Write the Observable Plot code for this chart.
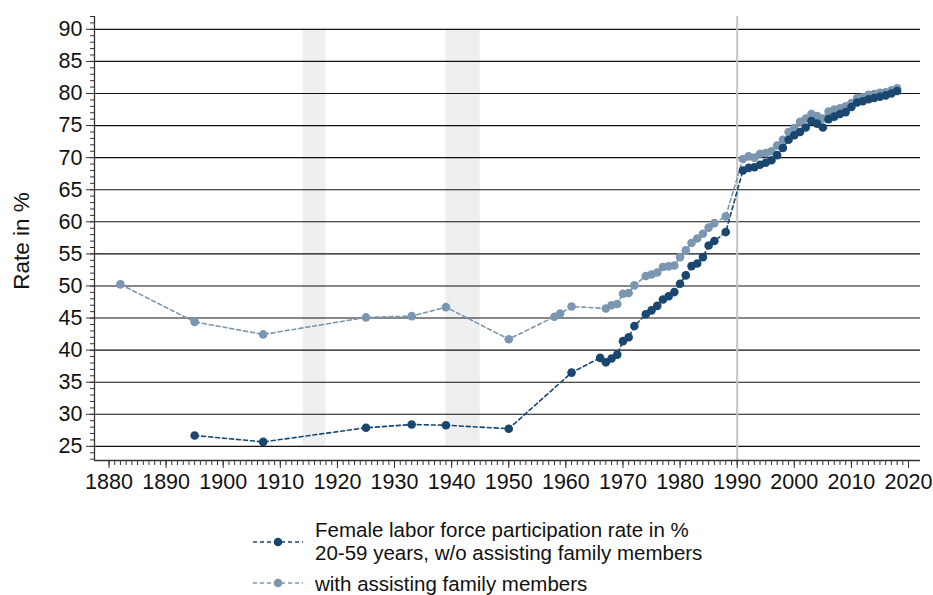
<!DOCTYPE html>
<html><head><meta charset="utf-8">
<script src="https://cdn.jsdelivr.net/npm/d3@7"></script>
<script src="https://cdn.jsdelivr.net/npm/@observablehq/plot@0.6"></script>
<style>
body{margin:0;background:#fff;font-family:"Liberation Sans",Arial,sans-serif;}
#wrap{position:relative;width:933px;height:595px;overflow:hidden;background:#fff;}
#chart{position:absolute;left:0;top:0;}
#chart svg text{font-size:21.5px;font-family:"Liberation Sans",Arial,sans-serif;}
.lg{position:absolute;font-size:20.5px;line-height:23px;color:#111;white-space:nowrap;}
.sym{position:absolute;}
#ylab{position:absolute;left:-78px;top:228px;width:200px;height:26px;line-height:26px;text-align:center;font-size:22.5px;color:#111;transform:rotate(-90deg);transform-origin:50% 50%;}
</style></head><body><div id="wrap"><div id="chart"></div><div id="ylab"></div></div>
<script>
// Data
const warStart = [1914, 1939];
const warEnd = [1918, 1945];

const darkYears = [1895,1907,1925,1933,1939,1950,1961,1966,1967,1968,1969,1970,1971,1972,1974,1975,1976,1977,1978,1979,1980,1981,1982,1983,1984,1985,1986,1988,
  1991,1992,1993,1994,1995,1996,1997,1998,1999,2000,2001,2002,2003,2004,2005,2006,2007,2008,2009,2010,2011,2012,2013,2014,2015,2016,2017,2018];
const darkValues = [26.7,25.7,27.9,28.4,28.3,27.75,36.5,38.8,38.1,38.7,39.3,41.4,42.0,43.75,45.6,46.2,46.9,47.9,48.4,49.05,50.35,51.65,53.1,53.5,54.5,56.3,57.0,58.4,
  68.0,68.4,68.5,68.9,69.2,69.6,70.4,71.5,72.8,73.5,74.0,74.7,75.7,75.3,74.7,76.0,76.4,76.8,77.1,77.9,78.6,78.8,79.1,79.3,79.5,79.7,80.0,80.4];

const lightYears = [1882,1895,1907,1925,1933,1939,1950,1958,1959,1961,1967,1968,1969,1970,1971,1972,1974,1975,1976,1977,1978,1979,1980,1981,1982,1983,1984,1985,1986,1988,
  1991,1992,1993,1994,1995,1996,1997,1998,1999,2000,2001,2002,2003,2004,2005,2006,2007,2008,2009,2010,2011,2012,2013,2014,2015,2016,2017,2018];
const lightValues = [50.25,44.4,42.45,45.1,45.3,46.7,41.7,45.2,45.7,46.8,46.5,47.0,47.2,48.8,48.9,50.1,51.55,51.8,52.1,52.95,53.05,53.2,54.5,55.55,56.7,57.4,58.15,59.1,59.8,60.85,
  69.8,70.2,70.0,70.6,70.7,71.0,71.9,72.8,74.0,74.6,75.6,76.1,76.8,76.5,76.1,77.2,77.5,77.7,78.0,78.5,79.3,79.4,79.8,79.9,80.1,80.2,80.5,80.8];

const yTicks = d3.range(25, 91, 5);
const yMinorTicks = d3.range(23, 93, 1);
const xTicks = d3.range(1880, 2021, 10);
const xMinorTicks = d3.range(1880, 2021, 1);
const markerYear = 1990;

const yAxisTitle = "Rate in %";
const seriesNames = ["Female labor force participation rate in %\n20-59 years, w/o assisting family members", "with assisting family members"];
const darkColor = "#1a476f";
const lightColor = "#7b96b0";

const wars = warStart.map((s, i) => ({start: s, end: warEnd[i]}));
const dark = darkYears.map((y, i) => ({year: y, v: darkValues[i]}));
const light = lightYears.map((y, i) => ({year: y, v: lightValues[i]}));

const xMin = 1877.46, xMax = 2022.1, yMin = 22.8, yMax = 92.0;

const chart = Plot.plot({
  width: 933, height: 500,
  marginLeft: 94, marginRight: 13, marginTop: 16, marginBottom: 40,
  x: {domain: [xMin, xMax]},
  y: {domain: [yMin, yMax]},
  style: {fontFamily: "'Liberation Sans', Arial, sans-serif", fontSize: "21.5px", color: "#111", background: "#fff"},
  marks: [
    Plot.rect(wars, {x1: "start", x2: "end", y1: 25, y2: 90, fill: "#efefef"}),
    Plot.ruleY(yTicks, {x1: xMin, x2: xMax, stroke: "#111", strokeWidth: 1.1}),
    Plot.ruleX([markerYear], {y1: yMin, y2: yMax, stroke: "#c4c4c4", strokeWidth: 2}),
    Plot.line(light, {x: "year", y: "v", stroke: lightColor, strokeWidth: 1.6, strokeDasharray: "4,3"}),
    Plot.line(dark, {x: "year", y: "v", stroke: darkColor, strokeWidth: 1.6, strokeDasharray: "4,3"}),
    Plot.dot(light, {x: "year", y: "v", r: 4.3, fill: lightColor, stroke: "none"}),
    Plot.dot(dark, {x: "year", y: "v", r: 4.3, fill: darkColor, stroke: "none"}),
    Plot.ruleX([xMin], {y1: yMin, y2: yMax, stroke: "#333", strokeWidth: 1.3}),
    Plot.ruleY([yMin], {x1: xMin, x2: xMax, stroke: "#333", strokeWidth: 1.3}),
    Plot.axisY(yTicks, {tickSize: 8, tickPadding: 4, fontSize: 21.5, label: null, stroke: "#333"}),
    Plot.axisY(yMinorTicks, {tickSize: 4, text: null, label: null, stroke: "#333"}),
    Plot.axisX(xTicks, {tickSize: 8, tickPadding: 5, fontSize: 21.5, label: null, tickFormat: d => String(d), stroke: "#333"}),
    Plot.axisX(xMinorTicks, {tickSize: 5, text: null, label: null, stroke: "#333"})
  ]
});
document.getElementById("chart").appendChild(chart);
document.getElementById("ylab").textContent = yAxisTitle;

// Legend
const wrap = document.getElementById("wrap");
function symbol(color, cy) {
  const ns = "http://www.w3.org/2000/svg";
  const s = document.createElementNS(ns, "svg");
  s.setAttribute("width", 60); s.setAttribute("height", 20);
  s.setAttribute("class", "sym");
  s.style.left = "250px"; s.style.top = (cy - 10) + "px";
  const l = document.createElementNS(ns, "line");
  l.setAttribute("x1", 3); l.setAttribute("x2", 53); l.setAttribute("y1", 10); l.setAttribute("y2", 10);
  l.setAttribute("stroke", color); l.setAttribute("stroke-width", 1.6); l.setAttribute("stroke-dasharray", "4,3");
  const c = document.createElementNS(ns, "circle");
  c.setAttribute("cx", 28); c.setAttribute("cy", 10); c.setAttribute("r", 4.3); c.setAttribute("fill", color);
  s.appendChild(l); s.appendChild(c);
  wrap.appendChild(s);
}
function label(text, top) {
  const d = document.createElement("div");
  d.className = "lg";
  d.style.left = "315px"; d.style.top = top + "px";
  d.innerHTML = text.split("\n").join("<br>");
  wrap.appendChild(d);
}
symbol(darkColor, 542);
label(seriesNames[0], 518);
symbol(lightColor, 583);
label(seriesNames[1], 572);
</script>
</body></html>
